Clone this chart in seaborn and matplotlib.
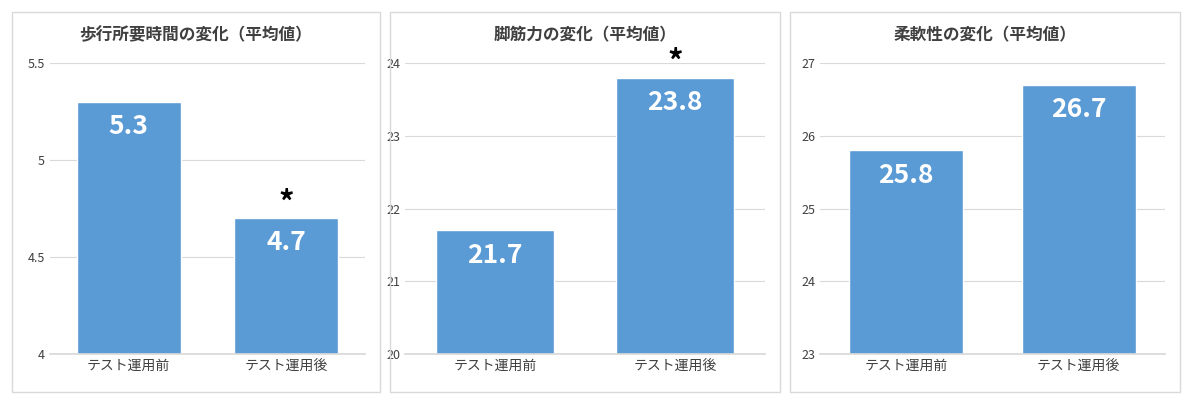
import matplotlib
matplotlib.use("Agg")
import matplotlib.pyplot as plt
import seaborn as sns
import pandas as pd
from matplotlib.patches import Rectangle

sns.set_theme(style="white")
plt.rcParams['font.family'] = ['Noto Sans CJK JP', 'DejaVu Sans']

categories = ["テスト運用前", "テスト運用後"]
titles = ["歩行所要時間の変化（平均値）", "脚筋力の変化（平均値）", "柔軟性の変化（平均値）"]
values = [[5.3, 4.7], [21.7, 23.8], [25.8, 26.7]]
ylims = [(4, 5.5), (20, 24), (23, 27)]
yticks = [[4, 4.5, 5, 5.5], [20, 21, 22, 23, 24], [23, 24, 25, 26, 27]]
yticklabels = [["4", "4.5", "5", "5.5"], ["20", "21", "22", "23", "24"], ["23", "24", "25", "26", "27"]]
stars = [[False, True], [False, True], [False, False]]

W, H = 1200, 404
fig = plt.figure(figsize=(12, 4.04), dpi=100)
panels = [(12, 380), (390, 780), (790, 1180)]
axes_x = [(50, 365), (405, 765), (820, 1165)]
top_y, bot_y = 63, 354

for i in range(3):
    px0, px1 = panels[i]
    fig.patches.append(Rectangle((px0 / W, 1 - 392 / H), (px1 - px0) / W, 380 / H,
                                 transform=fig.transFigure, fill=False, edgecolor="#d9d9d9", lw=1))
    fig.text((px0 + px1) / 2 / W, 1 - 35 / H, titles[i], ha="center", va="center",
             fontsize=12, fontweight="bold", color="#404040")
    ax0, ax1 = axes_x[i]
    ax = fig.add_axes([ax0 / W, 1 - bot_y / H, (ax1 - ax0) / W, (bot_y - top_y) / H])
    df = pd.DataFrame({"cat": categories, "val": values[i]})
    sns.barplot(data=df, x="cat", y="val", ax=ax, color="#5b9bd5", width=0.66, saturation=1)
    ax.set_ylim(*ylims[i])
    ax.set_yticks(yticks[i])
    ax.set_yticklabels(yticklabels[i], fontsize=9, color="#404040")
    ax.tick_params(axis="x", labelsize=10, colors="#404040", length=0)
    ax.tick_params(axis="y", length=0)
    ax.set_xlabel("")
    ax.set_ylabel("")
    ax.grid(axis="y", color="#d9d9d9", lw=0.8)
    ax.set_axisbelow(True)
    for s in ["top", "right", "left"]:
        ax.spines[s].set_visible(False)
    ax.spines["bottom"].set_color("#d9d9d9")
    rng = ylims[i][1] - ylims[i][0]
    for j, v in enumerate(values[i]):
        ax.text(j, v - rng * 0.085, f"{v:.1f}", ha="center", va="center",
                color="white", fontsize=19, fontweight="bold")
        if stars[i][j]:
            ax.text(j, v + rng * 0.05, "*", ha="center", va="center",
                    fontsize=22, fontweight="bold", color="black", clip_on=False)

fig.savefig("out.png", dpi=100)
